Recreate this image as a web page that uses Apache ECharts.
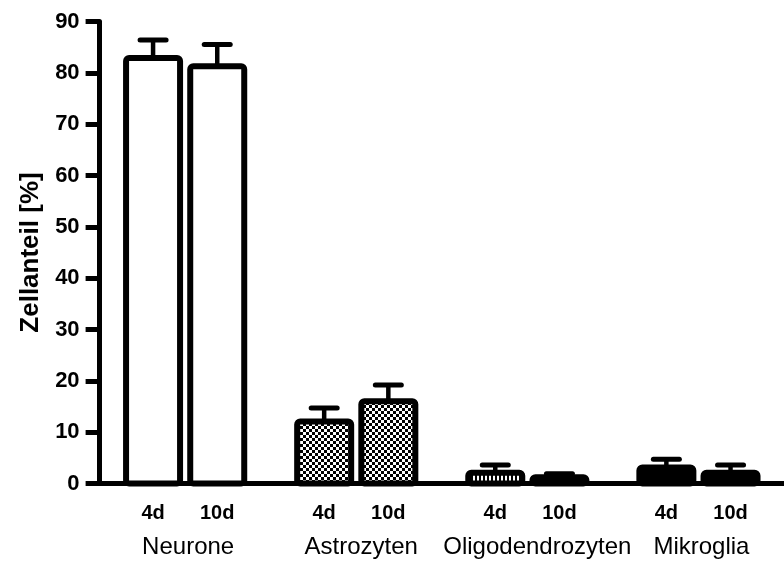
<!DOCTYPE html>
<html>
<head>
<meta charset="utf-8">
<script src="https://cdn.jsdelivr.net/npm/echarts@6/dist/echarts.min.js"></script>
<style>
  html, body { margin: 0; padding: 0; background: #fff; }
  #chart { width: 784px; height: 561px; }
</style>
</head>
<body>
<div id="chart"></div>
<script>
// cell types and time points
const groups = ['Neurone', 'Astrozyten', 'Oligodendrozyten', 'Mikroglia']
const times = ['4d', '10d']

// mean share [%] and error (upper whisker length)
const mean4d = [82.9, 12.1, 2.1, 3.1]
const mean10d = [81.3, 16.0, 1.2, 2.1]
const err4d = [3.5, 2.6, 1.5, 1.6]
const err10d = [4.2, 3.2, 0.7, 1.5]

const yTicks = [0, 10, 20, 30, 40, 50, 60, 70, 80, 90]

// slots on the x axis: 3 slots between 4d/10d, 8 per group
const nSlots = 32
const slotOf = (g, t) => 2 + 8 * g + 3 * t

// small nudges so the group names sit where the original puts them
const groupNudge = [6, 10, 20, 6]

function makePattern(kind) {
    const c = document.createElement('canvas')
    const ctx = c.getContext('2d')
    if (kind === 'checker') {
        c.width = 6; c.height = 6
        ctx.fillStyle = '#fff'
        ctx.fillRect(0, 0, 6, 6)
        ctx.fillStyle = '#000'
        ctx.fillRect(0, 0, 3, 3)
        ctx.fillRect(3, 3, 3, 3)
    } else {
        c.width = 4; c.height = 4
        ctx.fillStyle = '#000'
        ctx.fillRect(0, 0, 4, 4)
        ctx.fillStyle = '#fff'
        ctx.fillRect(1, 0, 2, 4)
    }
    return { image: c, repeat: 'repeat' }
}

const fills = [
    ['#fff', '#fff'],
    [makePattern('checker'), makePattern('checker')],
    [makePattern('stripes'), '#000'],
    ['#000', '#000']
]

const slotLabels = new Array(nSlots).fill('')
const barData = []
const barFills = []
const errData = []
groups.forEach((g, gi) => {
    times.forEach((t, ti) => {
        const s = slotOf(gi, ti)
        const m = ti === 0 ? mean4d[gi] : mean10d[gi]
        const e = ti === 0 ? err4d[gi] : err10d[gi]
        slotLabels[s] = t
        barData.push([s, m])
        barFills.push(fills[gi][ti])
        errData.push([s, m, m + e])
    })
})

const chart = echarts.init(document.getElementById('chart'), null, { renderer: 'canvas' })

const font = 'Liberation Sans'

const option = {
    backgroundColor: '#fff',
    animation: false,
    grid: { left: 99.6, right: -3, top: 21.5, bottom: 77.5, containLabel: false },
    xAxis: [{
        type: 'category',
        data: slotLabels,
        axisLine: { lineStyle: { color: '#000', width: 5 } },
        axisTick: {
            alignWithLabel: true,
            length: 13,
            interval: (i) => slotLabels[i] !== '',
            lineStyle: { color: '#000', width: 5, cap: 'round' }
        },
        axisLabel: {
            interval: (i) => slotLabels[i] !== '',
            margin: 20,
            color: '#000',
            fontFamily: font,
            fontWeight: 'bold',
            fontSize: 20
        }
    }, {
        type: 'category',
        data: groups.map((g, i) => ({
            value: g,
            textStyle: { padding: [0, 0, 0, groupNudge[i]] }
        })),
        position: 'bottom',
        axisLine: { show: false },
        axisTick: { show: false },
        axisLabel: {
            interval: 0,
            margin: 52,
            color: '#000',
            fontFamily: font,
            fontSize: 24
        }
    }],
    yAxis: {
        type: 'value',
        min: 0,
        max: 90,
        interval: 10,
        name: 'Zellanteil [%]',
        nameLocation: 'middle',
        nameGap: 54,
        nameTextStyle: {
            color: '#000',
            fontFamily: font,
            fontWeight: 'bold',
            fontSize: 26
        },
        splitLine: { show: false },
        axisLine: { show: true, lineStyle: { color: '#000', width: 5 } },
        axisTick: { show: true, length: 14, lineStyle: { color: '#000', width: 5 } },
        axisLabel: {
            margin: 20,
            color: '#000',
            fontFamily: font,
            fontWeight: 'bold',
            fontSize: 22,
            formatter: (v) => yTicks.includes(v) ? String(v) : ''
        }
    },
    series: [{
        // error bars (upper whisker only)
        type: 'custom',
        xAxisIndex: 0,
        z: 1,
        data: errData,
        renderItem: (params, api) => {
            const x = api.value(0)
            const base = api.coord([x, api.value(1)])
            const top = api.coord([x, api.value(2)])
            return {
                type: 'group',
                children: [{
                    type: 'line',
                    shape: { x1: base[0], y1: base[1], x2: top[0], y2: top[1] },
                    style: { stroke: '#000', lineWidth: 4.5 }
                }, {
                    type: 'line',
                    shape: { x1: top[0] - 13, y1: top[1], x2: top[0] + 13, y2: top[1] },
                    style: { stroke: '#000', lineWidth: 5, lineCap: 'round' }
                }]
            }
        }
    }, {
        // bars, stroke centred on the outline like the original
        type: 'custom',
        xAxisIndex: 0,
        z: 2,
        data: barData,
        renderItem: (params, api) => {
            const x = api.value(0)
            const top = api.coord([x, api.value(1)])
            const base = api.coord([x, 0])
            return {
                type: 'rect',
                shape: { x: top[0] - 27, y: top[1], width: 54, height: base[1] - top[1], r: 3 },
                style: { fill: barFills[params.dataIndex], stroke: '#000', lineWidth: 6, lineJoin: 'round' }
            }
        }
    }]
}

chart.setOption(option)
</script>
</body>
</html>
